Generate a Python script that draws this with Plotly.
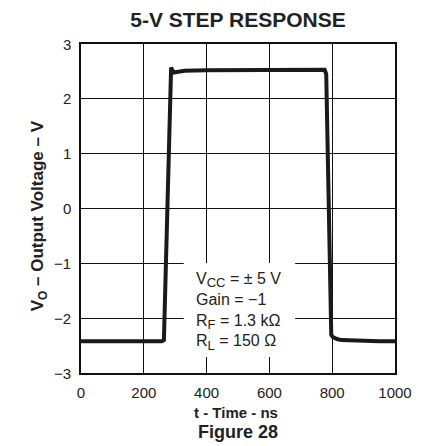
import plotly.graph_objects as go

# Step response trace (time in ns, output voltage in V)
time_ns = [0, 100, 200, 258, 264, 284, 287, 291, 297, 305, 330, 400, 500, 600, 700, 776, 781, 797, 801, 806, 815, 830, 870, 950, 1000]
vout = [-2.42, -2.42, -2.42, -2.42, -2.40, 2.40, 2.57, 2.52, 2.48, 2.49, 2.51, 2.52, 2.52, 2.53, 2.53, 2.53, 2.45, -2.30, -2.34, -2.36, -2.38, -2.40, -2.41, -2.42, -2.42]

x_ticks = [0, 200, 400, 600, 800, 1000]
y_ticks = [-3, -2, -1, 0, 1, 2, 3]
y_tick_text = ["\u22123", "\u22122", "\u22121", "0", "1", "2", "3"]

sub = "<sub><span style='font-size:13px'>{}</span></sub>"
conditions = ("V" + sub.format("CC") + " = \u00b1 5 V<br>Gain = \u22121<br>"
              "R" + sub.format("F") + " = 1.3 k\u03a9<br>R" + sub.format("L") + " = 150 \u03a9")

font_family = "Liberation Sans"
ink = "#222222"

# page body has an 8px default margin, so the figure is 8px smaller
W, H = 424 - 8, 446 - 8
L, T, R, B = 81 - 8, 44 - 8, 19, 73
plot_w, plot_h = 324, 329

def px_x(px):
    return (px - 81) / plot_w

def px_y(py):
    return (373 - py) / plot_h

fig = go.Figure()
fig.add_trace(go.Scatter(x=time_ns, y=vout, mode="lines",
                         line=dict(color="#1a1a1a", width=4),
                         showlegend=False, hoverinfo="skip"))

annotations = [
    dict(text=conditions, xref="paper", yref="paper", x=px_x(198), y=px_y(311),
         xanchor="left", yanchor="middle", showarrow=False, align="left",
         font=dict(size=16, family=font_family, color=ink)),
    dict(text="<b>t - Time - ns</b>", xref="paper", yref="paper", x=px_x(241),
         y=px_y(412), xanchor="center", yanchor="middle", showarrow=False,
         font=dict(size=15, family=font_family, color=ink)),
    dict(text="<b>Figure 28</b>", xref="paper", yref="paper", x=0.5,
         y=px_y(432), xanchor="center", yanchor="middle", showarrow=False,
         font=dict(size=18, family=font_family, color=ink)),
    dict(text="<b>V<sub>O</sub> \u2013 Output Voltage \u2013 V</b>", xref="paper",
         yref="paper", x=px_x(38), y=px_y(216), xanchor="center", yanchor="middle",
         textangle=-90, showarrow=False,
         font=dict(size=17, family=font_family, color=ink)),
]
for v, t in zip(y_ticks, y_tick_text):
    annotations.append(dict(text=t, xref="paper", yref="y", x=0, y=v, xanchor="right",
                            yanchor="middle", xshift=-8, showarrow=False,
                            font=dict(size=15, family=font_family, color=ink)))

fig.update_layout(
    width=W, height=H,
    margin=dict(l=L, r=R, t=T, b=B),
    paper_bgcolor="white", plot_bgcolor="white",
    font=dict(family=font_family, color=ink, size=15),
    title=dict(text="<b>5-V STEP RESPONSE</b>", x=0.5, xref="paper",
               y=1 - 12 / H, yref="container", yanchor="middle",
               xanchor="center", font=dict(size=21, family=font_family, color=ink)),
    xaxis=dict(range=[0, 1000], tickvals=x_ticks, showgrid=True, gridcolor="#111111",
               gridwidth=1, showline=True, linecolor="#111111", linewidth=2, mirror=True,
               ticks="outside", ticklen=5, tickcolor="white", zeroline=False, tickangle=0,
               tickfont=dict(size=15, family=font_family, color=ink)),
    yaxis=dict(range=[-3, 3], tickvals=y_ticks, showticklabels=False, showgrid=True,
               gridcolor="#111111", gridwidth=1, showline=True, linecolor="#111111",
               linewidth=2, mirror=True, ticks="", zeroline=False),
    shapes=[dict(type="rect", xref="paper", yref="paper", x0=px_x(187), x1=px_x(302),
                 y0=px_y(357), y1=px_y(263), fillcolor="white", line=dict(width=0),
                 layer="above")],
    annotations=annotations,
)

fig.write_html("out.html")
